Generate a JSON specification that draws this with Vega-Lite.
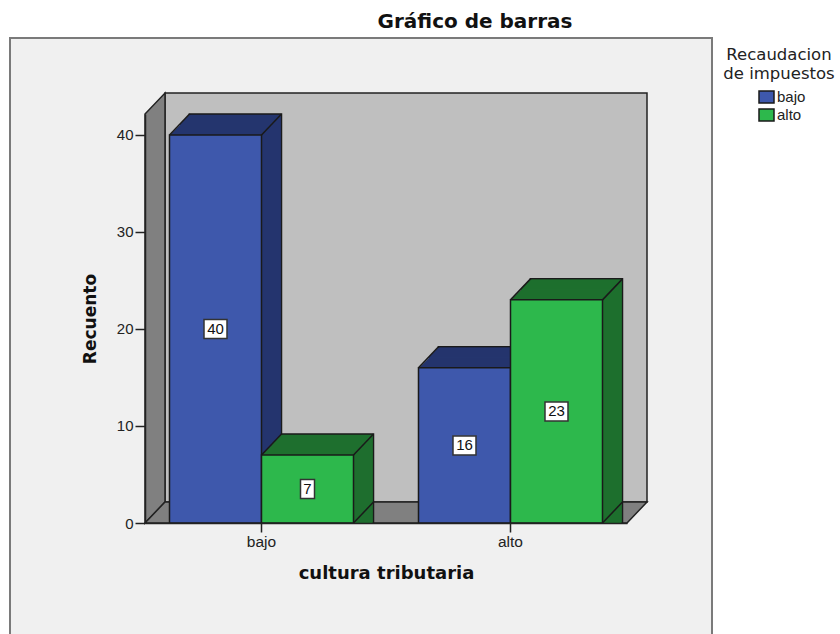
{"$schema":"https://vega.github.io/schema/vega-lite/v6.json","width":502,"height":430,"autosize":"none","padding":{"left":145,"top":93,"right":193,"bottom":111},"background":"white","title":{"text":"Gráfico de barras","font":"DejaVu Sans","fontWeight":"bold","fontSize":20,"color":"#111","anchor":"middle","dx":79,"offset":5},"config":{"view":{"stroke":null}},"data":{"values":[{"cultura":"bajo","recaudacion":"bajo","recuento":40},{"cultura":"bajo","recaudacion":"alto","recuento":7},{"cultura":"alto","recaudacion":"bajo","recuento":16},{"cultura":"alto","recaudacion":"alto","recuento":23}]},"transform":[{"calculate":"datum.recuento/2","as":"mitad"}],"layer":[{"data":{"values":[{}]},"mark":{"type":"rect","fill":"#f0f0f0","stroke":"#7a7a7a","strokeWidth":2,"clip":false},"encoding":{"x":{"value":-135},"x2":{"value":567},"y":{"value":-55},"y2":{"value":600}}},{"data":{"values":[{}]},"mark":{"type":"rect","fill":"#bfbfbf","stroke":"#222","strokeWidth":1.5},"encoding":{"x":{"value":20},"x2":{"value":502},"y":{"value":0},"y2":{"value":409}}},{"data":{"values":[{}]},"mark":{"type":"point","filled":true,"fill":"#808080","stroke":"#222","strokeWidth":1.5,"opacity":1,"size":4,"shape":"M0 0L0 -409L20 -430L20 -21Z"},"encoding":{"x":{"value":0},"y":{"value":430}}},{"data":{"values":[{}]},"mark":{"type":"point","filled":true,"fill":"#808080","stroke":"#222","strokeWidth":1.5,"opacity":1,"size":4,"shape":"M0 0L20 -21L502 -21L482 0Z"},"encoding":{"x":{"value":0},"y":{"value":430}}},{"encoding":{"x":{"field":"cultura","type":"nominal","sort":["bajo","alto"],"scale":{"domain":["bajo","alto"],"range":[0,482],"paddingInner":0.261,"paddingOuter":0.0984},"axis":{"zindex":1,"title":"cultura tributaria","titleFont":"DejaVu Sans","titleFontWeight":"bold","titleFontSize":18,"titleColor":"#111","titlePadding":15,"labelFont":"Liberation Sans","labelFontSize":15.5,"labelColor":"#222","labelAngle":0,"labelPadding":2,"tickSize":9,"tickColor":"#222","tickWidth":1.5,"domainColor":"#222","domainWidth":1.5}},"xOffset":{"field":"recaudacion","type":"nominal","sort":["bajo","alto"],"scale":{"domain":["bajo","alto"]}},"y":{"field":"recuento","type":"quantitative","stack":null,"scale":{"domain":[0,42.16],"range":[430,21],"nice":false},"axis":{"zindex":1,"title":"Recuento","titleFont":"DejaVu Sans","titleFontWeight":"bold","titleFontSize":17,"titleColor":"#111","titlePadding":17,"values":[0,10,20,30,40],"grid":false,"labelFont":"Liberation Sans","labelFontSize":15,"labelColor":"#222","labelPadding":2,"tickSize":10,"tickColor":"#222","tickWidth":1.5,"domainColor":"#222","domainWidth":1.5}}},"layer":[{"encoding":{"fill":{"field":"recaudacion","type":"nominal","legend":null,"scale":{"domain":["alto","bajo"],"range":["#1e6f2e","#24356e"]}}},"layer":[{"mark":{"type":"bar","size":92,"yOffset":-21,"y2Offset":-21,"stroke":"#1a1a1a","strokeWidth":1.5},"encoding":{"xOffset":{"value":{"expr":"datum.recaudacion==='bajo'?66:158"}}}},{"mark":{"type":"bar","size":92,"yOffset":-20,"y2Offset":-20},"encoding":{"xOffset":{"value":{"expr":"datum.recaudacion==='bajo'?65:157"}}}},{"mark":{"type":"bar","size":92,"yOffset":-19,"y2Offset":-19},"encoding":{"xOffset":{"value":{"expr":"datum.recaudacion==='bajo'?64:156"}}}},{"mark":{"type":"bar","size":92,"yOffset":-18,"y2Offset":-18},"encoding":{"xOffset":{"value":{"expr":"datum.recaudacion==='bajo'?63:155"}}}},{"mark":{"type":"bar","size":92,"yOffset":-17,"y2Offset":-17},"encoding":{"xOffset":{"value":{"expr":"datum.recaudacion==='bajo'?62:154"}}}},{"mark":{"type":"bar","size":92,"yOffset":-16,"y2Offset":-16},"encoding":{"xOffset":{"value":{"expr":"datum.recaudacion==='bajo'?61:153"}}}},{"mark":{"type":"bar","size":92,"yOffset":-15,"y2Offset":-15},"encoding":{"xOffset":{"value":{"expr":"datum.recaudacion==='bajo'?60:152"}}}},{"mark":{"type":"bar","size":92,"yOffset":-14,"y2Offset":-14},"encoding":{"xOffset":{"value":{"expr":"datum.recaudacion==='bajo'?59:151"}}}},{"mark":{"type":"bar","size":92,"yOffset":-13,"y2Offset":-13},"encoding":{"xOffset":{"value":{"expr":"datum.recaudacion==='bajo'?58:150"}}}},{"mark":{"type":"bar","size":92,"yOffset":-12,"y2Offset":-12},"encoding":{"xOffset":{"value":{"expr":"datum.recaudacion==='bajo'?57:149"}}}},{"mark":{"type":"bar","size":92,"yOffset":-11,"y2Offset":-11},"encoding":{"xOffset":{"value":{"expr":"datum.recaudacion==='bajo'?56:148"}}}},{"mark":{"type":"bar","size":92,"yOffset":-9,"y2Offset":-9},"encoding":{"xOffset":{"value":{"expr":"datum.recaudacion==='bajo'?55:147"}}}},{"mark":{"type":"bar","size":92,"yOffset":-8,"y2Offset":-8},"encoding":{"xOffset":{"value":{"expr":"datum.recaudacion==='bajo'?54:146"}}}},{"mark":{"type":"bar","size":92,"yOffset":-7,"y2Offset":-7},"encoding":{"xOffset":{"value":{"expr":"datum.recaudacion==='bajo'?53:145"}}}},{"mark":{"type":"bar","size":92,"yOffset":-6,"y2Offset":-6},"encoding":{"xOffset":{"value":{"expr":"datum.recaudacion==='bajo'?52:144"}}}},{"mark":{"type":"bar","size":92,"yOffset":-5,"y2Offset":-5},"encoding":{"xOffset":{"value":{"expr":"datum.recaudacion==='bajo'?51:143"}}}},{"mark":{"type":"bar","size":92,"yOffset":-4,"y2Offset":-4},"encoding":{"xOffset":{"value":{"expr":"datum.recaudacion==='bajo'?50:142"}}}},{"mark":{"type":"bar","size":92,"yOffset":-3,"y2Offset":-3},"encoding":{"xOffset":{"value":{"expr":"datum.recaudacion==='bajo'?49:141"}}}},{"mark":{"type":"bar","size":92,"yOffset":-2,"y2Offset":-2},"encoding":{"xOffset":{"value":{"expr":"datum.recaudacion==='bajo'?48:140"}}}},{"mark":{"type":"bar","size":92,"yOffset":-1,"y2Offset":-1},"encoding":{"xOffset":{"value":{"expr":"datum.recaudacion==='bajo'?47:139"}}}}]},{"mark":{"type":"point","filled":false,"stroke":"#1a1a1a","strokeWidth":1.5,"opacity":1,"size":4,"shape":"M-46 0L-26 -21"}},{"mark":{"type":"point","filled":false,"stroke":"#1a1a1a","strokeWidth":1.5,"opacity":1,"size":4,"shape":"M46 0L66 -21"}},{"mark":{"type":"point","filled":false,"stroke":"#1a1a1a","strokeWidth":1.5,"opacity":1,"size":4,"shape":"M46 0L66 -21"},"encoding":{"y":{"datum":0,"type":"quantitative"}}},{"mark":{"type":"bar","stroke":"#1a1a1a","strokeWidth":1.5},"encoding":{"color":{"field":"recaudacion","type":"nominal","scale":{"domain":["bajo","alto"],"range":["#3e58ac","#2db84c"]},"legend":{"orient":"none","legendX":578,"legendY":-46,"title":["Recaudacion","de impuestos"],"titleFont":"DejaVu Sans","titleFontWeight":"normal","titleFontSize":16.5,"titleColor":"#222","titleLineHeight":19,"titleAnchor":"middle","titleAlign":"center","titlePadding":6,"symbolType":"M-1 -0.8H1V0.8H-1Z","symbolSize":225,"symbolStrokeColor":"#1a1a1a","symbolStrokeWidth":1.5,"symbolOpacity":1,"symbolOffset":6,"labelFont":"Liberation Sans","labelFontSize":15,"labelColor":"#222","labelOffset":2,"rowPadding":-1,"padding":0}}}},{"transform":[{"filter":"datum.recuento>=10"}],"mark":{"type":"point","filled":true,"fill":"white","stroke":"#333","strokeWidth":1.5,"opacity":1,"size":4,"shape":"M-11.5 -9.5H11.5V9.5H-11.5Z"},"encoding":{"y":{"field":"mitad","type":"quantitative"}}},{"transform":[{"filter":"datum.recuento<10"}],"mark":{"type":"point","filled":true,"fill":"white","stroke":"#333","strokeWidth":1.5,"opacity":1,"size":4,"shape":"M-7 -9.5H7V9.5H-7Z"},"encoding":{"y":{"field":"mitad","type":"quantitative"}}},{"mark":{"type":"text","font":"Liberation Sans","fontSize":15,"fill":"#111","baseline":"middle","align":"center"},"encoding":{"y":{"field":"mitad","type":"quantitative"},"text":{"field":"recuento","type":"quantitative"}}}]}]}
